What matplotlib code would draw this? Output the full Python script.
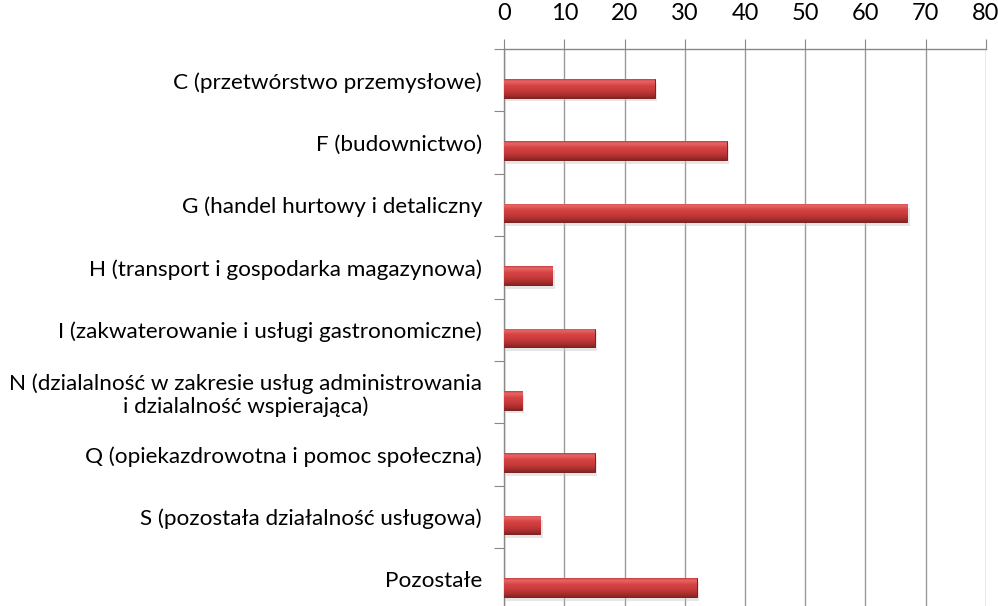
import numpy as np
import matplotlib
matplotlib.use("Agg")
import matplotlib.pyplot as plt
from matplotlib.colors import LinearSegmentedColormap

# categories top to bottom
categories = [
    "C (przetwórstwo przemysłowe)",
    "F (budownictwo)",
    "G (handel hurtowy i detaliczny",
    "H (transport i gospodarka magazynowa)",
    "I (zakwaterowanie i usługi gastronomiczne)",
    "N (dzialalność w zakresie usług administrowania\ni dzialalność wspierająca)",
    "Q (opiekazdrowotna i pomoc społeczna)",
    "S (pozostała działalność usługowa)",
    "Pozostałe",
]
values = [25, 37, 67, 8, 15, 3, 15, 6, 32]
xticks = [0, 10, 20, 30, 40, 50, 60, 70, 80]

plt.rcParams['font.family'] = ['Lato', 'DejaVu Sans']

fig = plt.figure(figsize=(9.98, 6.06), dpi=100)
ax = fig.add_axes([0.5053, -0.0076, 0.4824, 0.9267])

n = len(categories)
ypos = np.arange(n) + 0.5
bar_h = 0.3
off = 0.13  # bars sit a bit below the category centre

bars = ax.barh(ypos + off, values, height=bar_h, color="#d03c3c",
               edgecolor="#7a2020", linewidth=0.7, zorder=3)

# soft shadow under each bar
ax.barh(ypos + off + 0.06, values, height=bar_h, left=0.35,
        color="#c8c8c8", alpha=0.45, linewidth=0, zorder=2)

# vertical gradient to fake the bevel look
cmap = LinearSegmentedColormap.from_list(
    "bev", [(0.0, "#8a2424"), (0.15, "#a82e2e"), (0.4, "#c83a3a"),
            (0.65, "#d54343"), (0.8, "#e25a5a"), (0.9, "#e46464"), (1.0, "#c83e3e")])
grad = np.linspace(0, 1, 64).reshape(-1, 1)
for b in bars:
    x0, y0 = b.get_x(), b.get_y()
    w, h = b.get_width(), b.get_height()
    im = ax.imshow(grad, aspect="auto", cmap=cmap, origin="lower",
                   extent=[x0, x0 + w, y0 + h, y0], zorder=4)
    im.set_clip_path(b)

ax.set_xlim(0, 80)
ax.set_ylim(n, 0)

ax.xaxis.tick_top()
ax.set_xticks(xticks)
ax.set_xticklabels([str(t) for t in xticks], fontsize=17)
ax.tick_params(axis="x", which="major", length=7, color="#888888",
               pad=11, direction="out")

ax.set_yticks(np.arange(n + 1))
ax.set_yticklabels([])
ax.set_yticks(ypos, minor=True)
ax.set_yticklabels(categories, minor=True, fontsize=16.2, linespacing=1.15)
ax.tick_params(axis="y", which="major", length=7, color="#888888",
               direction="out")
ax.tick_params(axis="y", which="minor", length=0, pad=16)
for lab in ax.get_yticklabels(minor=True):
    lab.set_multialignment("center")

ax.grid(axis="x", color="#9a9a9a", linewidth=1.0, zorder=0)
ax.set_axisbelow(True)
for s in ["right", "bottom"]:
    ax.spines[s].set_visible(False)
for s in ["top", "left"]:
    ax.spines[s].set_color("#888888")
    ax.spines[s].set_linewidth(1.0)

fig.savefig("out.png", dpi=100)
